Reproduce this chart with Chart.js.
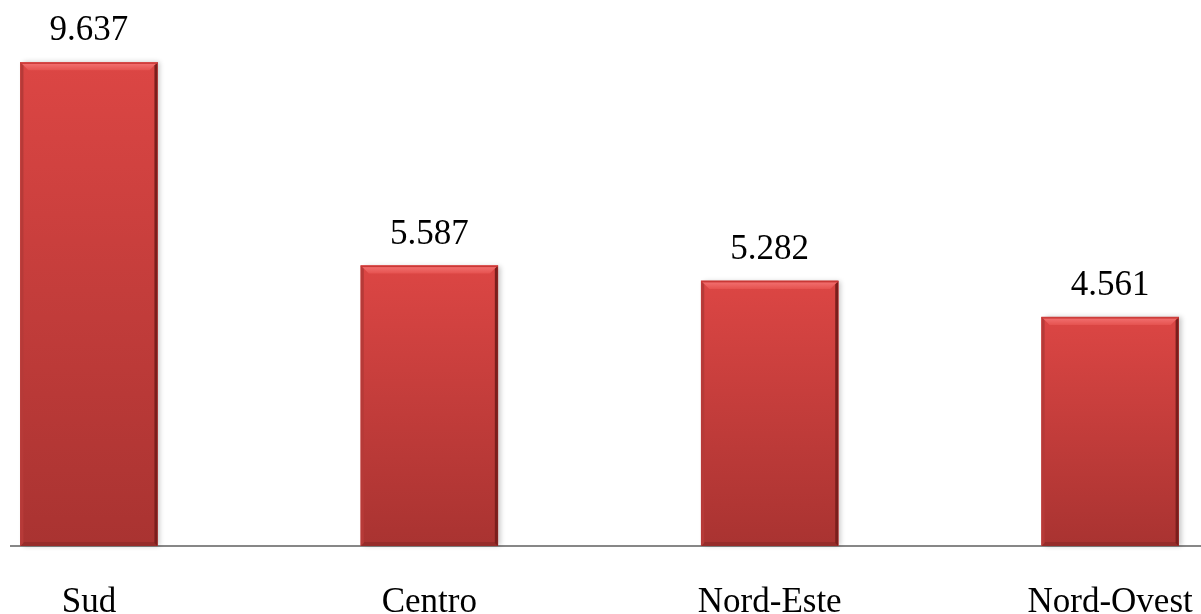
<!DOCTYPE html>
<html>
<head>
<meta charset="utf-8">
<script src="https://cdn.jsdelivr.net/npm/chart.js@4/dist/chart.umd.min.js"></script>
<style>
  html, body { margin: 0; padding: 0; background: #fff; }
  #wrap { width: 1201px; height: 614px; position: relative; overflow: hidden; }
  #box { width: 1201px; height: 660px; position: absolute; left: 0; top: 0; }
</style>
</head>
<body>
<div id="wrap"><div id="box"><canvas id="chartRegioni"></canvas></div></div>
<script>
// regioni e valori
const regioni = ['Sud', 'Centro', 'Nord-Este', 'Nord-Ovest'];
const valori = [9637, 5587, 5282, 4561];

const SERIF = "'Liberation Serif', 'Times New Roman', serif";

// 9637 -> "9.637"
const formatta = (v) => String(v).replace(/\B(?=(\d{3})+(?!\d))/g, '.');

// rilievo delle barre: gradiente, smussi e ombra
const rilievo = {
  id: 'rilievo',
  beforeDatasetsDraw(chart) {
    const { ctx } = chart;
    chart.getDatasetMeta(0).data.forEach((bar) => {
      const { x, y, base, width } = bar.getProps(['x', 'y', 'base', 'width'], true);
      ctx.save();
      ctx.shadowColor = 'rgba(0,0,0,0.22)';
      ctx.shadowBlur = 5;
      ctx.shadowOffsetX = 3;
      ctx.fillStyle = '#fff';
      ctx.fillRect(x - width / 2, y, width, base - y);
      ctx.restore();
    });
  },
  afterDatasetsDraw(chart) {
    const { ctx } = chart;
    chart.getDatasetMeta(0).data.forEach((bar, i) => {
      const { x, y, base, width } = bar.getProps(['x', 'y', 'base', 'width'], true);
      const l = x - width / 2, r = x + width / 2, t = y, b = base;
      const bv = 8, sd = 3;

      ctx.save();
      const g = ctx.createLinearGradient(0, t, 0, b);
      g.addColorStop(0, '#dc4644');
      g.addColorStop(1, '#a93331');
      ctx.fillStyle = g;
      ctx.fillRect(l, t, width, b - t);

      const poly = (pts, fill) => {
        ctx.beginPath();
        ctx.moveTo(pts[0][0], pts[0][1]);
        pts.slice(1).forEach((p) => ctx.lineTo(p[0], p[1]));
        ctx.closePath();
        ctx.fillStyle = fill;
        ctx.fill();
      };

      // bordo basso
      poly([[l, b], [r, b], [r - sd, b - 4], [l + sd, b - 4]], '#962c2a');
      // lato sinistro
      poly([[l, t], [l + sd, t + sd], [l + sd, b - sd], [l, b]], '#b63a38');
      // lato destro
      poly([[r, t], [r, b], [r - sd, b - sd], [r - sd, t + sd]], '#7a1e1c');
      // smusso in alto
      const gt = ctx.createLinearGradient(0, t, 0, t + bv);
      gt.addColorStop(0, '#f47474');
      gt.addColorStop(1, '#e5524f');
      poly([[l, t], [r, t], [r - bv, t + bv], [l + bv, t + bv]], gt);
      ctx.fillStyle = '#c93836';
      ctx.fillRect(l, t, width, 1.5);
      ctx.restore();

      // etichetta del valore
      ctx.save();
      ctx.font = `35px ${SERIF}`;
      ctx.fillStyle = '#000';
      ctx.textAlign = 'center';
      ctx.textBaseline = 'alphabetic';
      ctx.fillText(formatta(valori[i]), x, t - 22);
      ctx.restore();
    });
  },
};

new Chart(document.getElementById('chartRegioni'), {
  type: 'bar',
  data: {
    datasets: [{
      data: valori.map((v, i) => ({ x: i, y: v })),
      backgroundColor: '#c93e3c',
      borderWidth: 0,
      barThickness: 137,
    }],
  },
  options: {
    responsive: true,
    maintainAspectRatio: false,
    animation: false,
    layout: { padding: { left: 11, top: 4, right: 0, bottom: 0 } },
    plugins: {
      legend: { display: false },
      tooltip: { enabled: false },
    },
    scales: {
      x: {
        type: 'linear',
        offset: false,
        min: -0.229,
        max: 3.267,
        afterBuildTicks: (scale) => {
          scale.ticks = regioni.map((_, i) => ({ value: i }));
        },
        afterFit: (scale) => {
          scale.paddingLeft = 0;
          scale.paddingRight = 0;
        },
        grid: { display: false, drawTicks: false },
        border: { display: true, color: '#878787', width: 2 },
        ticks: {
          autoSkip: false,
          maxRotation: 0,
          padding: 40,
          color: '#000',
          font: { family: SERIF, size: 35, lineHeight: '34px' },
          callback: (value) => regioni[value] ?? '',
        },
      },
      y: {
        display: false,
        min: 0,
        max: 10800,
      },
    },
  },
  plugins: [rilievo],
});
</script>
</body>
</html>
